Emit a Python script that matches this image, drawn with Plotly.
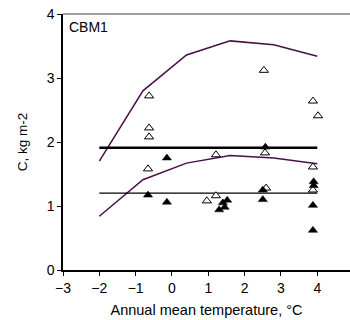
import plotly.graph_objects as go

# Envelope lines (model range)
env_t = [-2.0, -0.8, 0.4, 1.6, 2.8, 4.0]
env_upper = [1.70, 2.80, 3.36, 3.58, 3.52, 3.34]
env_lower = [0.84, 1.41, 1.67, 1.79, 1.75, 1.66]

# Horizontal reference lines
href_t = [-2.0, 4.0]
href_thick = 1.91
href_thin = 1.20

# Open triangles
open_t = [-0.63, -0.63, -0.63, -0.66, 2.53, 3.88, 4.02, 1.21, 2.56, 0.96, 1.21, 2.59, 3.88, 3.88]
open_c = [2.72, 2.22, 2.08, 1.58, 3.12, 2.64, 2.41, 1.80, 1.83, 1.08, 1.16, 1.28, 1.61, 1.25]

# Filled triangles
fill_t = [-0.14, -0.66, -0.14, 2.57, 2.50, 2.50, 1.52, 1.40, 1.45, 1.30, 3.90, 3.90, 3.88, 3.88]
fill_c = [1.75, 1.17, 1.06, 1.92, 1.25, 1.10, 1.09, 1.05, 0.98, 0.94, 1.38, 1.32, 1.01, 0.62]

purple = "#4a0f48"
font = "Liberation Sans, Arial, Helvetica, sans-serif"

fig = go.Figure()
fig.add_trace(go.Scatter(x=env_t, y=env_upper, mode="lines",
                         line=dict(color=purple, width=1.5), showlegend=False))
fig.add_trace(go.Scatter(x=env_t, y=env_lower, mode="lines",
                         line=dict(color=purple, width=1.5), showlegend=False))
fig.add_trace(go.Scatter(x=href_t, y=[href_thick] * 2, mode="lines",
                         line=dict(color="black", width=2.5), showlegend=False))
fig.add_trace(go.Scatter(x=href_t, y=[href_thin] * 2, mode="lines",
                         line=dict(color="black", width=1.2), showlegend=False))
fig.add_trace(go.Scatter(x=open_t, y=open_c, mode="markers",
                         marker=dict(symbol="triangle-up", size=8, color="white",
                                     line=dict(color="black", width=1)),
                         showlegend=False))
fig.add_trace(go.Scatter(x=fill_t, y=fill_c, mode="markers",
                         marker=dict(symbol="triangle-up", size=8, color="black",
                                     line=dict(color="black", width=0.5)),
                         showlegend=False))

fig.update_layout(
    width=350, height=320,
    margin=dict(l=63, r=0, t=14, b=50),
    plot_bgcolor="white", paper_bgcolor="white",
    font=dict(family=font, size=13, color="black"),
    xaxis=dict(range=[-3, 4.9], tickvals=[-3, -2, -1, 0, 1, 2, 3, 4],
               showgrid=False, zeroline=False, showline=True, linecolor="black",
               linewidth=1.5, ticks="outside", ticklen=4, tickcolor="black",
               tickfont=dict(size=14),
               title=dict(text="Annual mean temperature, °C", font=dict(size=14.5),
                          standoff=10)),
    yaxis=dict(range=[0, 4], tickvals=[0, 1, 2, 3, 4],
               showgrid=False, zeroline=False, showline=True, linecolor="black",
               linewidth=1.5, ticks="outside", ticklen=4, tickcolor="black",
               tickfont=dict(size=14),
               title=dict(text="C, kg m-2", font=dict(size=13.5), standoff=16)),
    shapes=[dict(type="line", xref="paper", yref="paper", x0=0, x1=1, y0=1, y1=1,
                 line=dict(color="#808080", width=1.5))],
    annotations=[dict(text="CBM1", xref="paper", yref="paper", x=0.015, y=0.99,
                      xanchor="left", yanchor="top", showarrow=False,
                      font=dict(size=14))],
)

fig.write_html("out.html")
